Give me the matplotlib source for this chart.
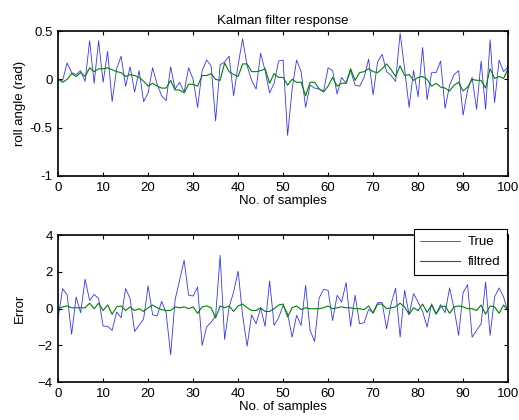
import numpy as np
import matplotlib

matplotlib.use("Agg")
import matplotlib.pyplot as plt

# Samples 0..100
muestras = np.arange(101)

# Roll angle: measured (noisy) and Kalman filtered
angulo_real = [
    0.00, -0.01, 0.17, 0.07, 0.05, 0.09, -0.02, 0.40, -0.04, 0.40,
    -0.03, 0.29, -0.23, 0.11, 0.24, -0.07, 0.13, -0.13, 0.09, -0.23,
    -0.14, 0.12, -0.05, -0.17, -0.22, 0.13, -0.10, -0.03, -0.13, 0.12,
    0.00, -0.29, 0.09, 0.20, 0.14, -0.43, 0.15, 0.18, 0.24, -0.17,
    0.15, 0.42, 0.14, -0.01, -0.10, 0.27, 0.09, -0.14, -0.04, 0.19,
    0.20, -0.58, -0.10, 0.20, 0.08, -0.29, -0.06, -0.09, -0.10, -0.12,
    0.12, 0.09, -0.15, 0.02, -0.04, 0.09, -0.06, -0.07, 0.02, 0.21,
    -0.16, 0.18, 0.26, 0.08, 0.04, -0.02, 0.48, 0.11, -0.29, 0.09,
    -0.18, 0.33, -0.21, 0.07, 0.07, 0.19, -0.30, -0.06, 0.05, 0.09,
    -0.37, -0.11, 0.02, -0.31, 0.19, -0.31, 0.41, -0.24, 0.20, 0.08,
    0.13,
]
angulo_filtrado = [
    0.00, -0.03, 0.00, 0.06, 0.03, 0.07, 0.03, 0.12, 0.08, 0.11,
    0.11, 0.12, 0.10, 0.08, 0.07, 0.03, 0.05, 0.04, 0.02, -0.02,
    -0.07, -0.04, -0.07, -0.09, -0.09, -0.01, -0.11, -0.11, -0.14, -0.05,
    -0.05, -0.07, 0.04, 0.04, 0.06, 0.00, -0.01, 0.17, 0.08, 0.05,
    0.03, 0.16, 0.16, 0.08, 0.08, 0.09, 0.11, -0.04, 0.06, 0.02,
    0.02, -0.06, 0.00, -0.03, -0.03, -0.17, -0.03, -0.03, -0.10, -0.13,
    -0.07, 0.02, -0.07, -0.04, -0.04, 0.11, -0.01, 0.07, 0.08, 0.11,
    0.08, 0.07, 0.11, 0.16, 0.10, 0.03, 0.14, 0.04, 0.05, -0.01,
    0.02, 0.03, 0.00, -0.07, -0.04, -0.08, -0.09, -0.12, -0.06, -0.03,
    -0.12, -0.08, 0.00, -0.01, -0.01, -0.09, 0.11, 0.01, 0.03, 0.01,
    0.11,
]

# Error of each signal
error_real = [
    -0.50, 1.09, 0.76, -1.40, 0.64, -0.22, 1.60, 0.45, 0.78, 0.55,
    -0.95, -0.96, -1.18, -0.18, -0.49, 1.09, 0.55, -1.24, -0.90, -0.55,
    1.24, -0.33, -0.40, 0.40, -0.22, -2.50, 0.50, 1.55, 2.64, 0.73,
    0.69, 1.18, -2.00, -1.00, -0.73, -0.40, 2.90, -1.67, 0.09, 0.91,
    2.04, -0.36, -2.04, -0.33, -0.82, 0.04, -0.96, 1.51, -0.91, -0.50,
    0.18, -0.27, -1.55, -0.36, -0.91, 1.27, -1.18, -1.78, 0.58, 1.05,
    1.00, -0.64, 0.73, 0.36, 1.42, -0.96, 0.73, -0.82, -0.76, -0.04,
    -0.22, 0.33, 0.33, -1.09, 0.27, 1.11, -1.55, 1.00, -0.33, 0.82,
    0.36, -0.15, -1.00, 0.27, -0.27, 0.22, -0.22, 1.13, 0.00, -1.45,
    0.87, 1.31, -1.55, -1.18, -0.82, 1.45, -1.45, 0.64, 1.13, 0.64,
    -0.22,
]
error_filtrado = [
    0.00, 0.10, 0.15, 0.05, 0.05, 0.05, 0.05, 0.30, 0.00, 0.30,
    -0.10, 0.20, -0.30, 0.10, 0.15, -0.10, 0.10, -0.10, 0.00, -0.15,
    0.05, 0.20, 0.05, -0.05, -0.10, -0.10, 0.10, 0.05, 0.10, 0.00,
    0.10, -0.25, 0.10, 0.15, 0.05, -0.50, 0.15, 0.05, 0.15, -0.15,
    0.15, 0.25, 0.05, -0.10, -0.10, 0.05, -0.15, -0.15, 0.00, 0.20,
    0.25, -0.45, 0.05, 0.15, -0.05, 0.05, 0.00, 0.00, 0.00, 0.05,
    0.15, 0.00, 0.05, 0.10, 0.05, 0.05, 0.00, 0.00, -0.05, 0.15,
    -0.25, 0.25, 0.25, 0.00, 0.05, 0.10, 0.30, 0.10, -0.30, 0.05,
    -0.10, 0.25, -0.20, 0.20, -0.30, 0.10, 0.15, -0.25, 0.10, 0.15,
    0.10, 0.00, 0.00, -0.10, 0.20, -0.30, 0.15, 0.10, -0.25, 0.20,
    -0.10,
]

AZUL = (0.0, 0.0, 1.0)
VERDE = (0.0, 0.5, 0.0)

plt.rcParams["font.family"] = ["Liberation Sans", "DejaVu Sans"]
plt.rcParams["font.size"] = 9.5


def estilo_matlab(ax):
    """Ejes con marco completo y marcas hacia dentro."""
    ax.tick_params(direction="in", top=True, right=True, length=3,
                   width=0.8, pad=4, labelsize=9.5)
    for lado in ax.spines.values():
        lado.set_linewidth(1.2)


fig = plt.figure(figsize=(5.19, 4.2), dpi=100)
ax1 = fig.add_axes([0.112, 0.581, 0.867, 0.345])
ax2 = fig.add_axes([0.112, 0.090, 0.867, 0.350])

ax1.plot(muestras, angulo_real, color=AZUL, lw=0.6, alpha=0.8)
ax1.plot(muestras, angulo_filtrado, color=VERDE, lw=0.8)
ax1.set_xlim(0, 100)
ax1.set_ylim(-1, 0.5)
ax1.set_xticks(np.arange(0, 101, 10))
ax1.set_yticks([-1, -0.5, 0, 0.5])
ax1.set_yticklabels(["-1", "-0.5", "0", "0.5"])
ax1.set_title("Kalman filter response", fontsize=9.5, pad=5)
ax1.set_xlabel("No. of samples", labelpad=1)
ax1.set_ylabel("roll angle (rad)", labelpad=3)
estilo_matlab(ax1)

ax2.plot(muestras, error_real, color=AZUL, lw=0.6, alpha=0.8, label="True")
ax2.plot(muestras, error_filtrado, color=VERDE, lw=0.8, label="filtred")
ax2.set_xlim(0, 100)
ax2.set_ylim(-4, 4)
ax2.set_xticks(np.arange(0, 101, 10))
ax2.set_yticks([-4, -2, 0, 2, 4])
ax2.set_xlabel("No. of samples", labelpad=1)
ax2.set_ylabel("Error", labelpad=8)
estilo_matlab(ax2)

leyenda = ax2.legend(loc="upper right", bbox_to_anchor=(0.998, 1.04),
                     fontsize=9.5, frameon=True, fancybox=False,
                     edgecolor="black", framealpha=1, borderpad=0.5,
                     handlelength=3.0, handletextpad=0.6, labelspacing=0.6,
                     borderaxespad=0)
leyenda.get_frame().set_linewidth(0.8)

fig.savefig("out.png", dpi=100)
plt.close(fig)
